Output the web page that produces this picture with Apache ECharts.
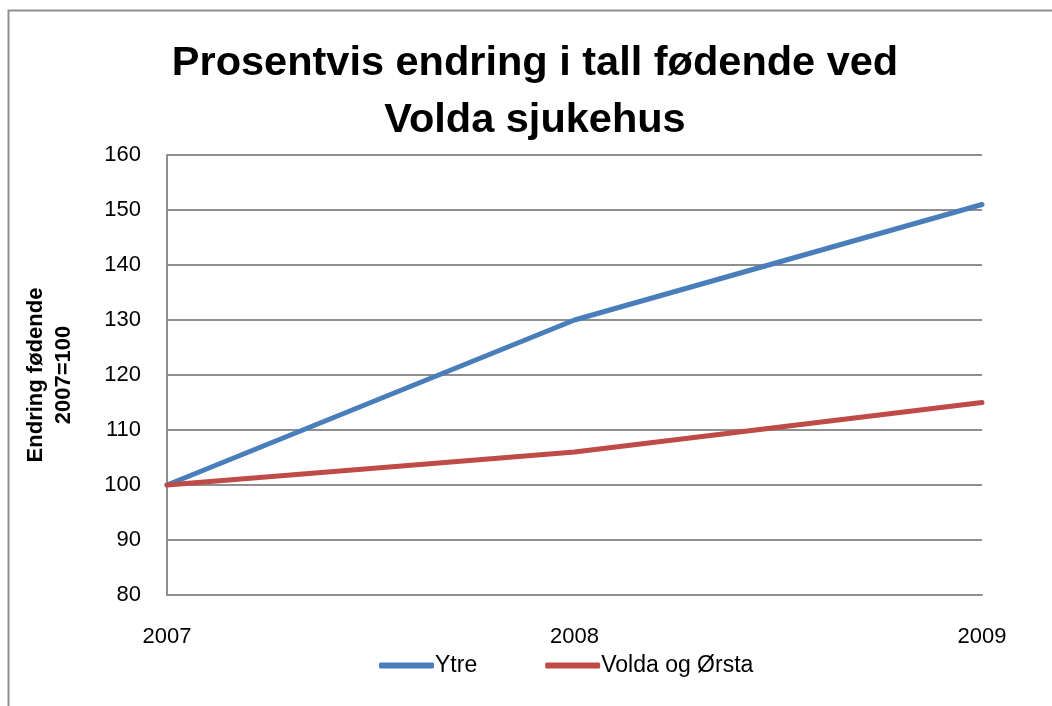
<!DOCTYPE html>
<html>
<head>
<meta charset="utf-8">
<script src="https://cdn.jsdelivr.net/npm/echarts@6/dist/echarts.min.js"></script>
<style>
  html, body { margin: 0; padding: 0; background: #fff; }
  #chart { width: 1052px; height: 706px; }
</style>
</head>
<body>
<div id="chart"></div>
<script>
// data
const years = ["2007", "2008", "2009"];
const ytre = [100, 130, 151];
const voldaOrsta = [100, 106, 115];
const yTicks = { min: 80, max: 160, step: 10 };

const chart = echarts.init(document.getElementById("chart"));
const gray = "#8f8f8f";
const font = "'Liberation Sans', Arial, sans-serif";

chart.setOption({
  animation: false,
  color: ["#4a7ebb", "#be4b48"],
  title: {
    text: "Prosentvis endring i tall fødende ved\nVolda sjukehus",
    left: 530,
    textAlign: "center",
    top: 30,
    textStyle: {
      fontFamily: font,
      fontWeight: "bold",
      fontSize: 41.5,
      lineHeight: 57,
      color: "#000",
    },
  },
  graphic: [
    {
      type: "rect",
      shape: { x: 8.5, y: 10.5, width: 1100, height: 800 },
      style: { fill: "none", stroke: gray, lineWidth: 2 },
      silent: true,
    },
  ],
  legend: {
    bottom: 24,
    left: 374,
    itemWidth: 55,
    itemHeight: 6,
    itemGap: 68,
    icon: "roundRect",
    textStyle: { fontFamily: font, fontSize: 23, color: "#000", padding: [0, 0, 0, -4] },
    data: ["Ytre", "Volda og Ørsta"],
  },
  grid: { left: 167, right: 70, top: 155, bottom: 111, outerBoundsMode: "none", containLabel: false },
  xAxis: {
    type: "category",
    boundaryGap: false,
    data: years,
    axisTick: { show: false },
    axisLine: { lineStyle: { color: gray, width: 2 } },
    axisLabel: { fontFamily: font, fontSize: 22, color: "#000", margin: 31 },
  },
  yAxis: {
    type: "value",
    min: yTicks.min,
    max: yTicks.max,
    interval: yTicks.step,
    name: "Endring fødende\n2007=100",
    nameLocation: "middle",
    nameRotate: 90,
    nameGap: 89,
    nameTextStyle: { fontFamily: font, fontSize: 22, fontWeight: "bold", color: "#000", lineHeight: 28 },
    axisLine: { show: true, lineStyle: { color: gray, width: 2 } },
    axisTick: { show: false },
    splitLine: { lineStyle: { color: gray, width: 2 } },
    axisLabel: { fontFamily: font, fontSize: 22, color: "#000", margin: 26 },
  },
  series: [
    {
      name: "Ytre",
      type: "line",
      data: ytre,
      symbol: "none",
      lineStyle: { width: 5, cap: "round" },
    },
    {
      name: "Volda og Ørsta",
      type: "line",
      data: voldaOrsta,
      symbol: "none",
      lineStyle: { width: 5, cap: "round" },
    },
  ],
});
</script>
</body>
</html>
